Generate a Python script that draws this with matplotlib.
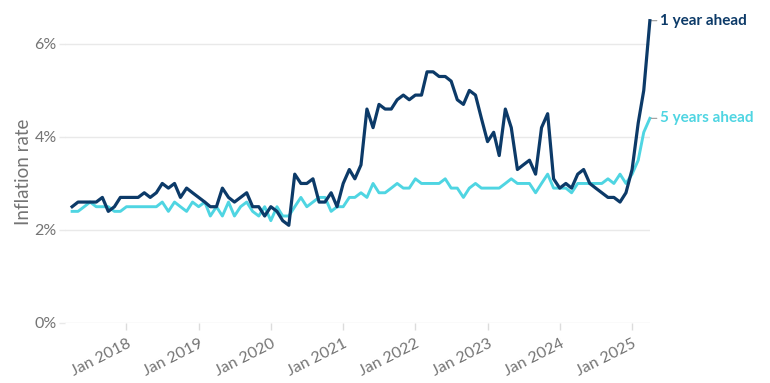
import numpy as np
import pandas as pd
import matplotlib
matplotlib.use("Agg")
import matplotlib.pyplot as plt
import matplotlib.dates as mdates

# monthly survey expectations, Apr 2017 - Apr 2025 (%)
start_month = "2017-04-01"
end_month = "2025-04-01"

one_year = [
    2.5, 2.6, 2.6, 2.6, 2.6, 2.7, 2.4, 2.5, 2.7,                  # 2017 Apr-Dec
    2.7, 2.7, 2.7, 2.8, 2.7, 2.8, 3.0, 2.9, 3.0, 2.7, 2.9, 2.8,   # 2018
    2.7, 2.6, 2.5, 2.5, 2.9, 2.7, 2.6, 2.7, 2.8, 2.5, 2.5, 2.3,   # 2019
    2.5, 2.4, 2.2, 2.1, 3.2, 3.0, 3.0, 3.1, 2.6, 2.6, 2.8, 2.5,   # 2020
    3.0, 3.3, 3.1, 3.4, 4.6, 4.2, 4.7, 4.6, 4.6, 4.8, 4.9, 4.8,   # 2021
    4.9, 4.9, 5.4, 5.4, 5.3, 5.3, 5.2, 4.8, 4.7, 5.0, 4.9, 4.4,   # 2022
    3.9, 4.1, 3.6, 4.6, 4.2, 3.3, 3.4, 3.5, 3.2, 4.2, 4.5, 3.1,   # 2023
    2.9, 3.0, 2.9, 3.2, 3.3, 3.0, 2.9, 2.8, 2.7, 2.7, 2.6, 2.8,   # 2024
    3.3, 4.3, 5.0, 6.5,                                          # 2025
]
five_year = [
    2.4, 2.4, 2.5, 2.6, 2.5, 2.5, 2.5, 2.4, 2.4,
    2.5, 2.5, 2.5, 2.5, 2.5, 2.5, 2.6, 2.4, 2.6, 2.5, 2.4, 2.6,
    2.5, 2.6, 2.3, 2.5, 2.3, 2.6, 2.3, 2.5, 2.6, 2.4, 2.3, 2.5,
    2.2, 2.5, 2.3, 2.3, 2.5, 2.7, 2.5, 2.6, 2.7, 2.7, 2.4, 2.5,
    2.5, 2.7, 2.7, 2.8, 2.7, 3.0, 2.8, 2.8, 2.9, 3.0, 2.9, 2.9,
    3.1, 3.0, 3.0, 3.0, 3.0, 3.1, 2.9, 2.9, 2.7, 2.9, 3.0, 2.9,
    2.9, 2.9, 2.9, 3.0, 3.1, 3.0, 3.0, 3.0, 2.8, 3.0, 3.2, 2.9,
    2.9, 2.9, 2.8, 3.0, 3.0, 3.0, 3.0, 3.0, 3.1, 3.0, 3.2, 3.0,
    3.2, 3.5, 4.1, 4.4,
]
series_labels = ["1 year ahead", "5 years ahead"]
yticks = [0, 2, 4, 6]

navy = "#0c3a68"
cyan = "#4fd5e2"
grey = "#747474"

plt.rcParams["font.family"] = ["Lato", "DejaVu Sans"]

dates = pd.date_range(start_month, end_month, freq="MS")

fig = plt.figure(figsize=(7.7, 3.83), dpi=100)
ax = fig.add_axes([0.0844, 0.1567, 0.7596, 0.7893])

ax.plot(dates, five_year, color=cyan, lw=2.1, solid_joinstyle="round", clip_on=False, zorder=3)
ax.plot(dates, one_year, color=navy, lw=2.3, solid_joinstyle="round", clip_on=False, zorder=4)

ax.set_ylim(0, 6.5)
ax.set_xlim(pd.Timestamp("2017-02-24"), dates[-1])
ax.set_yticks(yticks)
ax.set_yticklabels([f"{v}%" for v in yticks])
ax.yaxis.grid(True, color="#e9e9e9", lw=1)
ax.set_axisbelow(True)

ax.xaxis.set_major_locator(mdates.YearLocator(month=1, day=1))
ax.xaxis.set_major_formatter(mdates.DateFormatter("Jan %Y"))
for lbl in ax.get_xticklabels():
    lbl.set_rotation(27)
    lbl.set_ha("right")
    lbl.set_rotation_mode("anchor")

for s in ax.spines.values():
    s.set_visible(False)
ax.tick_params(axis="x", colors="#dcdcdc", labelcolor=grey, labelsize=11.5, length=5, width=1, pad=5)
ax.tick_params(axis="y", colors="#e9e9e9", labelcolor=grey, labelsize=11.5, length=4, width=1, pad=2)
ax.set_ylabel("Inflation rate", color=grey, fontsize=13.5, labelpad=2)

# end labels
for vals, lab, col in [(one_year, series_labels[0], navy), (five_year, series_labels[1], cyan)]:
    ax.annotate(lab, xy=(dates[-1], vals[-1]), xytext=(7, 0), textcoords="offset points",
                color=col, fontsize=11, fontweight="bold", va="center", ha="left",
                annotation_clip=False,
                arrowprops=dict(arrowstyle="-", color="#9a9a9a", lw=0.8, shrinkA=0, shrinkB=1))

fig.savefig("out.png", dpi=100)
